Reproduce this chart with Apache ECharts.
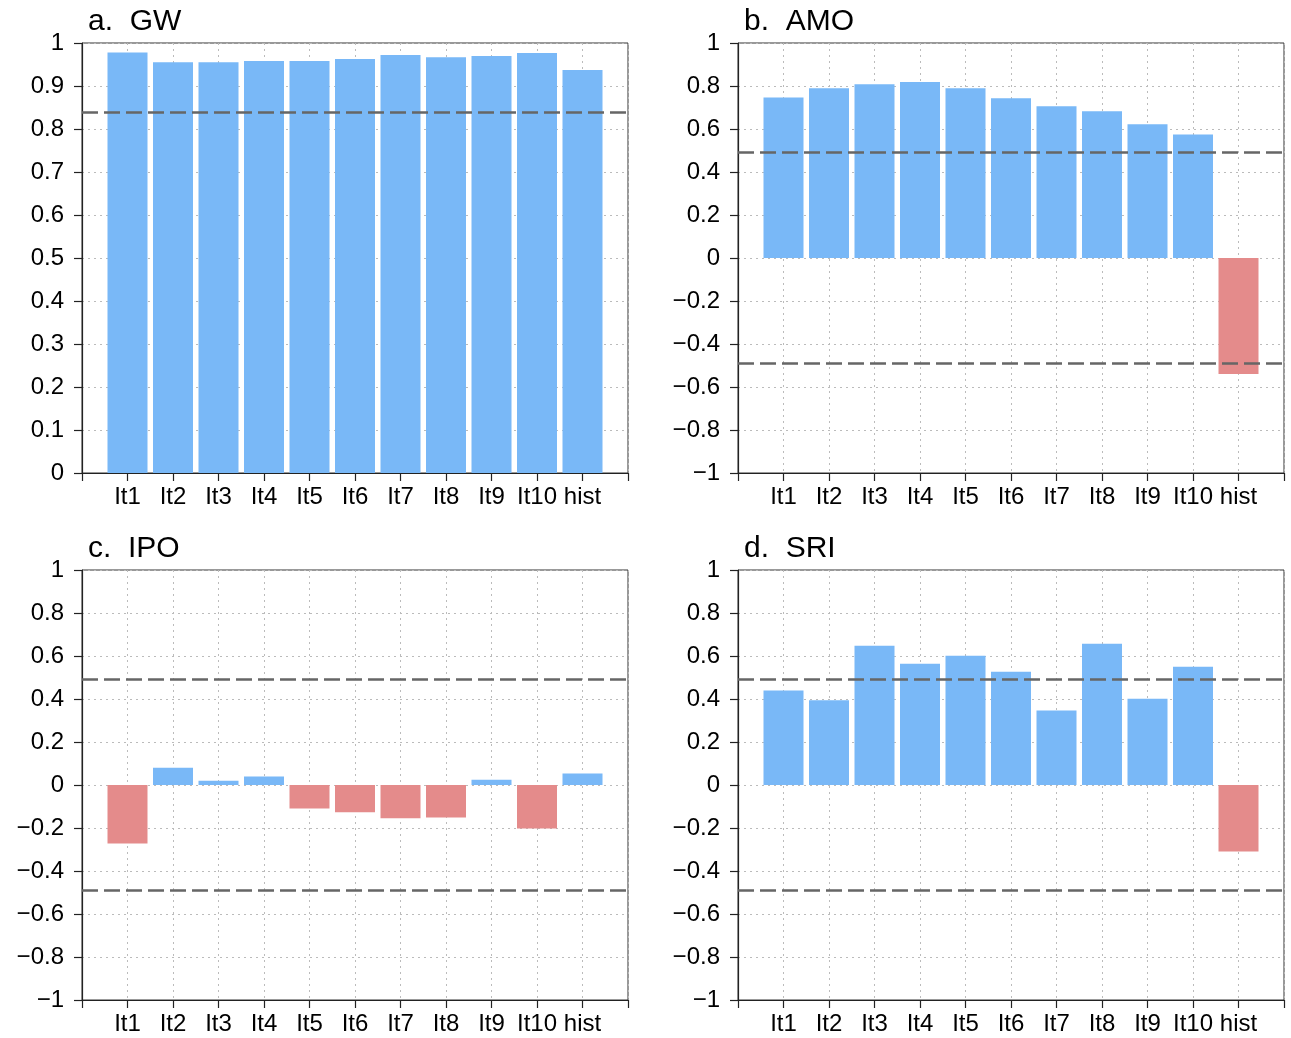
<!DOCTYPE html>
<html>
<head>
<meta charset="utf-8">
<title>Correlation by iteration</title>
<script src="https://cdn.jsdelivr.net/npm/echarts@6/dist/echarts.min.js"></script>
<style>
  html, body { margin: 0; padding: 0; background: #fff; }
  #chart { width: 1291px; height: 1038px; }
</style>
</head>
<body>
<div id="chart"></div>
<script>
// Category names along the x axis
const categories = ['It1', 'It2', 'It3', 'It4', 'It5', 'It6', 'It7', 'It8', 'It9', 'It10', 'hist'];

// Correlation values per panel
const gwValues  = [0.978, 0.955, 0.955, 0.958, 0.958, 0.963, 0.972, 0.967, 0.970, 0.977, 0.937];
const amoValues = [0.747, 0.789, 0.808, 0.819, 0.789, 0.743, 0.706, 0.682, 0.622, 0.575, -0.540];
const ipoValues = [-0.272, 0.080, 0.020, 0.040, -0.109, -0.127, -0.155, -0.151, 0.025, -0.202, 0.053];
const sriValues = [0.439, 0.394, 0.648, 0.564, 0.601, 0.527, 0.346, 0.657, 0.401, 0.550, -0.309];

// Significance thresholds (dashed lines)
const gwThreshold = [0.84];
const indexThreshold = [0.49, -0.49];

// Panel titles
const titles = ['a.  GW', 'b.  AMO', 'c.  IPO', 'd.  SRI'];

const BLUE = '#79b8f7';
const RED = '#e48b8b';
const FONT = '"Liberation Sans", Arial, sans-serif';

const panels = [
  { title: titles[0], values: gwValues,  thresholds: gwThreshold,    min: 0,  max: 1, step: 0.1, left: 82,  top: 43 },
  { title: titles[1], values: amoValues, thresholds: indexThreshold, min: -1, max: 1, step: 0.2, left: 738, top: 43 },
  { title: titles[2], values: ipoValues, thresholds: indexThreshold, min: -1, max: 1, step: 0.2, left: 82,  top: 570 },
  { title: titles[3], values: sriValues, thresholds: indexThreshold, min: -1, max: 1, step: 0.2, left: 738, top: 570 }
];

const W = 546, H = 430;

function fmtY(v) {
  const r = Math.round(v * 10) / 10;
  return String(r).replace('-', '\u2212');
}

const option = {
  animation: false,
  backgroundColor: '#fff',
  title: panels.map(p => ({
    text: p.title,
    left: p.left + 1,
    top: p.top - 41,
    textStyle: { fontFamily: FONT, fontSize: 30, fontWeight: 'normal', color: '#000' }
  })),
  grid: panels.map(p => ({
    left: p.left, top: p.top, width: W, height: H,
    show: true, borderColor: '#333', borderWidth: 1, backgroundColor: 'transparent'
  })),
  xAxis: panels.map((p, i) => ({
    type: 'value', gridIndex: i, min: 0, max: categories.length + 1, interval: 1,
    axisLine: { show: true, onZero: false, lineStyle: { color: '#222', width: 1.2 } },
    axisTick: { show: true, inside: false, length: 8, lineStyle: { color: '#222', width: 1.2 } },
    axisLabel: {
      margin: 12, fontFamily: FONT, fontSize: 24, color: '#000',
      formatter: v => (v >= 1 && v <= categories.length) ? categories[v - 1] : ''
    },
    splitLine: { show: true, lineStyle: { color: '#bbb', type: [2, 4], width: 1 } }
  })),
  yAxis: panels.map((p, i) => ({
    type: 'value', gridIndex: i, min: p.min, max: p.max, interval: p.step,
    axisLine: { show: true, lineStyle: { color: '#222', width: 1.2 } },
    axisTick: { show: true, inside: false, length: 8, lineStyle: { color: '#222', width: 1.2 } },
    axisLabel: { margin: 18, fontFamily: FONT, fontSize: 24, color: '#000', formatter: fmtY },
    splitLine: { show: true, lineStyle: { color: '#bbb', type: [2, 4], width: 1 } }
  })),
  series: panels.map((p, i) => ({
    type: 'bar', xAxisIndex: i, yAxisIndex: i,
    barWidth: 40,
    data: p.values.map((v, k) => ({
      value: [k + 1, v],
      itemStyle: { color: v >= 0 ? BLUE : RED }
    })),
    markLine: {
      silent: true, symbol: 'none', label: { show: false },
      lineStyle: { color: '#666', type: [16, 6], width: 2.6 },
      data: p.thresholds.map(t => ({ yAxis: t }))
    },
    z: 2
  }))
};

const chart = echarts.init(document.getElementById('chart'), null, { renderer: 'canvas' });
chart.setOption(option);
</script>
</body>
</html>
